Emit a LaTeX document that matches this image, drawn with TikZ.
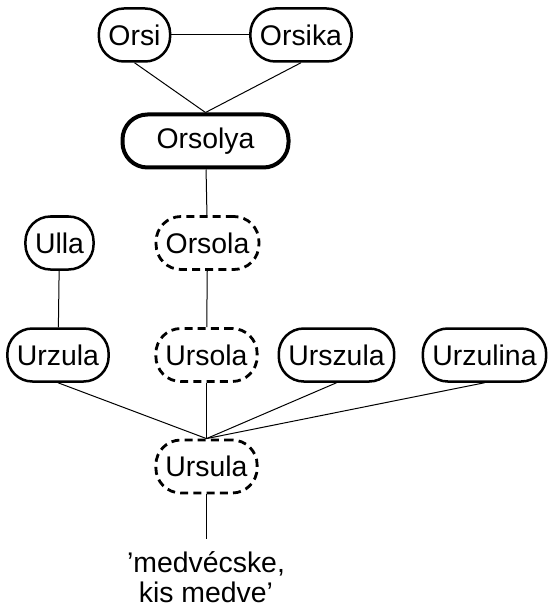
\documentclass[tikz,border=0pt]{standalone}
\usepackage{fontspec}
\setmainfont{Liberation Sans}
\usetikzlibrary{arrows.meta}

\begin{document}
\begin{tikzpicture}[x=0.5pt,y=-0.5pt,nick/.style={rectangle,rounded corners=12.5pt,draw,line width=1.25pt,fill=white,minimum height=26.5pt,inner xsep=4.8pt,inner ysep=0pt,font=\fontsize{14.2}{15}\selectfont},nickdash/.style={nick,line width=1.4pt,dash pattern=on 4pt off 2.6pt},root/.style={nick,line width=2pt,minimum width=83pt},link/.style={line width=0.5pt}]
\useasboundingbox (0,0) rectangle (547,604);
\node[nick] (orsi) at (134.5,35) {Orsi};
\node[nick] (orsika) at (301,35) {Orsika};
\node[root] (orsolya) at (205.5,141) {Orsolya};
\node[nick] (ulla) at (59.5,243) {Ulla};
\node[nickdash] (orsola) at (207.5,243) {Orsola};
\node[nick] (urzula) at (58,355) {Urzula};
\node[nickdash] (ursola) at (206.5,355) {Ursola};
\node[nick] (urszula) at (336.5,355) {Urszula};
\node[nick] (urzulina) at (484.5,355) {Urzulina};
\node[nickdash] (ursula) at (206.5,466.5) {Ursula};
\node[align=center,inner sep=0pt,anchor=north,font=\fontsize{14.2}{15}\selectfont] (jelentes) at (206,551) {'medvécske,\\kis medve'};
\draw[link] (orsi) -- (orsika);
\draw[link] (orsi.south) -- (orsolya.north);
\draw[link] (orsika.south) -- (orsolya.north);
\draw[link] (orsolya) -- (orsola);
\draw[link] (ulla) -- (urzula);
\draw[link] (orsola) -- (ursola);
\draw[link] (urzula.south) -- (ursula.north);
\draw[link] (ursola.south) -- (ursula.north);
\draw[link] (urszula.south) -- (ursula.north);
\draw[link] (urzulina.south) -- (ursula.north);
\draw[link] (ursula.south) -- ++(0,45) coordinate (jelvege);
\end{tikzpicture}
\end{document}
